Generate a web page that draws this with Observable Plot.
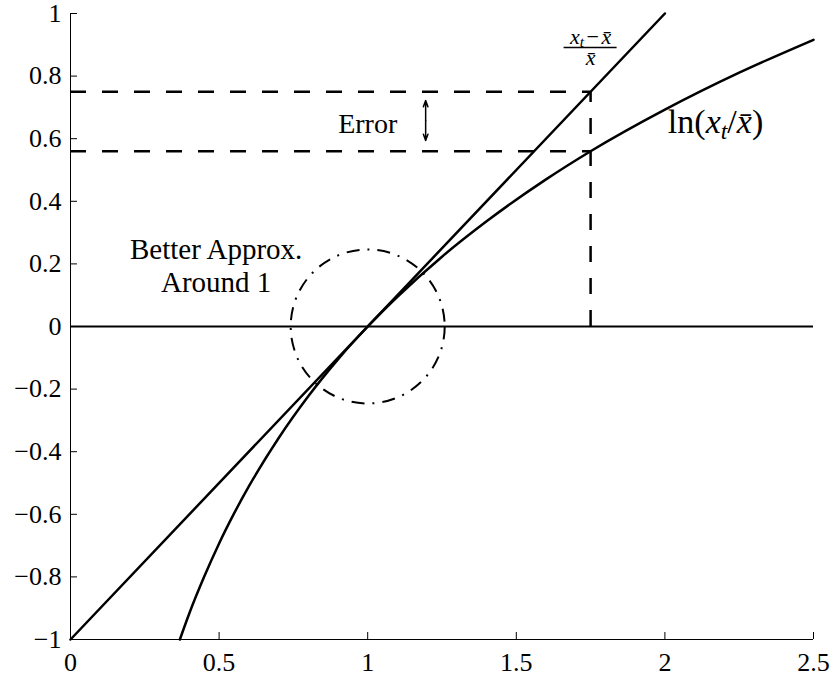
<!DOCTYPE html>
<html>
<head>
<meta charset="utf-8">
<script src="https://cdn.jsdelivr.net/npm/d3@7"></script>
<script src="https://cdn.jsdelivr.net/npm/@observablehq/plot@0.6"></script>
<style>
  body { margin: 0; background: #fff; }
  #chart svg { display: block; }
  #chart svg, #chart svg text, #chart svg tspan { font-family: "Liberation Serif", "Times New Roman", serif !important; }
</style>
</head>
<body>
<div id="chart"></div>
<script>
// Axis ticks
const xTicks = [0, 0.5, 1, 1.5, 2, 2.5];
const yTicks = [-1, -0.8, -0.6, -0.4, -0.2, 0, 0.2, 0.4, 0.6, 0.8, 1];

// Log-deviation curve ln(x_t / x̄)
const logX = [0.368, 0.4, 0.45, 0.5, 0.55, 0.6, 0.7, 0.8, 0.9, 1, 1.1, 1.25, 1.4, 1.6, 1.75, 2, 2.25, 2.5];
const logY = [-1, -0.916, -0.799, -0.693, -0.598, -0.511, -0.357, -0.223, -0.105, 0, 0.095, 0.223, 0.336, 0.47, 0.56, 0.693, 0.811, 0.916];

// Percentage deviation (x_t - x̄)/x̄, a straight line
const linX = [0, 2];
const linY = [-1, 1];

// Example point where the two measures are compared
const xt = 1.75;
const approxAtXt = 0.75;
const logAtXt = 0.56;

// Neighbourhood of 1 where the approximation is good
const centreX = 1;
const centreY = 0;

const logPts = logX.map((x, i) => ({x, y: logY[i]}));
const linPts = linX.map((x, i) => ({x, y: linY[i]}));

const fmt = d => (d < 0 ? "\u2212" + String(-d) : String(d));
const ink = "#000";

// Math labels, typeset as italic / subscript pieces
const lnParts = [["ln(", "n"], ["x", "i"], ["t", "sub"], ["/", "n"], ["x\u0304", "i"], [")", "n"]];
const numParts = [["x", "i"], ["t", "sub"], ["\u2212", "op"], ["x\u0304", "iop"]];
const denParts = [["x\u0304", "i"]];
const joined = parts => parts.map(p => p[0]).join("");

const chart = Plot.plot({
  width: 833,
  height: 677,
  marginLeft: 70,
  marginRight: 20,
  marginTop: 13,
  marginBottom: 38,
  style: "font-family: 'Liberation Serif', 'Times New Roman', serif; background: #fff; color: #000; overflow: visible;",
  x: {domain: [0, 2.5]},
  y: {domain: [-1, 1]},
  marks: [
    // zero line
    Plot.ruleY([0], {stroke: ink, strokeWidth: 2.2}),
    // dashed guides at the example point
    Plot.ruleY([approxAtXt, logAtXt], {x1: 0, x2: xt, stroke: ink, strokeWidth: 2.5, strokeDasharray: "16,16"}),
    Plot.ruleX([xt], {y1: 0, y2: approxAtXt, stroke: ink, strokeWidth: 2.5, strokeDasharray: "16,16"}),
    // the two curves
    Plot.line(linPts, {x: "x", y: "y", stroke: ink, strokeWidth: 2.5}),
    Plot.line(logPts, {x: "x", y: "y", stroke: ink, strokeWidth: 2.5, curve: "monotone-x"}),
    // dash-dot neighbourhood circle
    Plot.dot([{x: centreX, y: centreY}], {x: "x", y: "y", r: 77, fill: "none", stroke: ink, strokeWidth: 2, strokeDasharray: "13,8,2,8"}),
    // double-headed error arrow
    Plot.arrow([{y2: 0.722}, {y2: 0.594}], {x1: 1.195, x2: 1.195, y1: 0.658, y2: "y2", stroke: ink, strokeWidth: 1.5, headLength: 10, headAngle: 40}),
    // annotations
    Plot.text([{x: 0.49, y: 0.196, s: "Better Approx.\nAround 1"}], {x: "x", y: "y", text: "s", fontSize: 29, lineHeight: 1.14, fill: ink}),
    Plot.text([{x: 1.0, y: 0.648, s: "Error"}], {x: "x", y: "y", text: "s", fontSize: 28, fill: ink}),
    Plot.text([{x: 2.01, y: 0.652, s: joined(lnParts)}], {x: "x", y: "y", text: "s", fontSize: 34, textAnchor: "start", fill: ink, ariaDescription: "ln label"}),
    Plot.text([{x: xt, y: 0.891, s: joined(numParts)}], {x: "x", y: "y", text: "s", fontSize: 22, dy: -11, fill: ink, ariaDescription: "fraction numerator"}),
    Plot.text([{x: xt, y: 0.891, s: joined(denParts)}], {x: "x", y: "y", text: "s", fontSize: 22, dy: 10, fill: ink, ariaDescription: "fraction denominator"}),
    Plot.ruleY([0.891], {x1: xt, x2: xt, insetLeft: -26.5, insetRight: -26.5, stroke: ink, strokeWidth: 1.5}),
    // axes: left and bottom lines with inward ticks
    Plot.ruleX([0], {stroke: ink, strokeWidth: 1}),
    Plot.ruleY([-1], {stroke: ink, strokeWidth: 1}),
    Plot.axisX({ticks: xTicks, tickSize: -7, tickPadding: 20, tickFormat: fmt, fontSize: 26, label: null}),
    Plot.axisY({ticks: yTicks, tickSize: -7, tickPadding: 16, tickFormat: fmt, fontSize: 26, label: null})
  ]
});

function typeset(svg, label, parts, fs) {
  d3.select(svg).selectAll(`g[aria-description="${label}"] text`).each(function () {
    const t = d3.select(this).text("");
    let shift = 0;
    for (const [s, kind] of parts) {
      const sp = t.append("tspan").text(s);
      if (kind === "sub") {
        sp.attr("font-size", fs * 0.7).attr("font-style", "italic").attr("dy", fs * 0.17 - shift);
        shift = fs * 0.17;
      } else {
        if (shift) sp.attr("dy", -shift);
        shift = 0;
        if (kind === "i" || kind === "iop") sp.attr("font-style", "italic");
        if (kind === "op" || kind === "iop") sp.attr("dx", 2.5);
      }
    }
  });
}

typeset(chart, "ln label", lnParts, 34);
typeset(chart, "fraction numerator", numParts, 22);
typeset(chart, "fraction denominator", denParts, 22);

document.getElementById("chart").appendChild(chart);
</script>
</body>
</html>
